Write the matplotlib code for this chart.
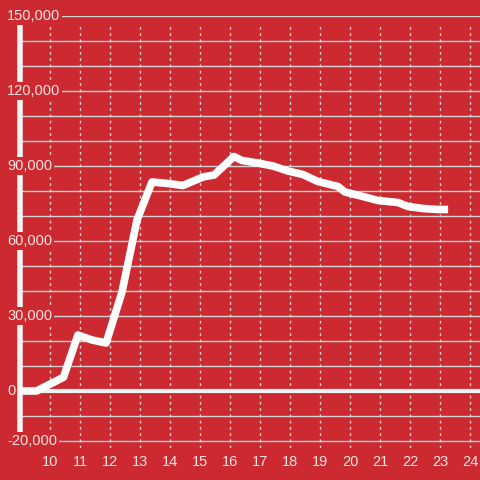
import matplotlib
matplotlib.use('Agg')
import matplotlib.pyplot as plt

# values
hours = [9.0, 9.55, 10.45, 10.93, 11.4, 11.87, 12.4, 12.9, 13.4, 13.93, 14.43,
         15.1, 15.47, 16.13, 16.4, 16.93, 17.43, 17.93, 18.43, 18.93, 19.6,
         19.83, 20.43, 20.93, 21.6, 21.93, 22.43, 22.93, 23.27]
counts = [0, 0, 5500, 22400, 20400, 19200, 39600, 68400, 83600, 83000, 82200,
          85600, 86400, 93800, 92200, 91200, 90000, 88000, 86600, 83800, 81800,
          79600, 77800, 76200, 75400, 73800, 73000, 72600, 72600]
x_ticks = list(range(10, 25))
y_labels = [150000, 120000, 90000, 60000, 30000, 0, -20000]

bg = '#cc2a30'
txt = '#f6e4e4'
plt.rcParams['font.family'] = ['Liberation Sans', 'DejaVu Sans']

fig = plt.figure(figsize=(4.8, 4.8), dpi=100, facecolor=bg)
ax = fig.add_axes([20 / 480, 32 / 480, 460 / 480, 432 / 480])
ax.set_facecolor(bg)
ax.set_xlim(9, 24.333)
ax.set_ylim(-22800, 150000)
for s in ax.spines.values():
    s.set_visible(False)
ax.set_yticks([])
ax.set_xticks(x_ticks)
ax.tick_params(axis='x', length=0, pad=5, labelsize=10.5, labelcolor=txt)

# grid
for v in range(-20000, 150001, 10000):
    if v != 0:
        ax.axhline(v, color='#d4d4d4', lw=1, zorder=1)
for t in x_ticks:
    ax.axvline(t, ymax=0.982, color='#d4d4d4', lw=1, ls=(0, (2, 2.5)), zorder=1)

ax.axhline(0, color='#f2f2f2', lw=3, zorder=2)
ax.plot([9, 9], [-20000, 147000], color='#f2f2f2', lw=4, zorder=2, clip_on=False)

ax.plot(hours, counts, color='white', lw=5.5, solid_capstyle='butt',
        solid_joinstyle='round', zorder=3)

trans = ax.get_yaxis_transform()
for v in y_labels:
    ax.text(-13 / 460, v, f'{v:,}', transform=trans, ha='left', va='center',
            fontsize=10.5, color=txt, zorder=5, clip_on=False,
            bbox=dict(facecolor=bg, edgecolor='none', pad=1.5))

fig.savefig('out.png', dpi=100, facecolor=bg)
